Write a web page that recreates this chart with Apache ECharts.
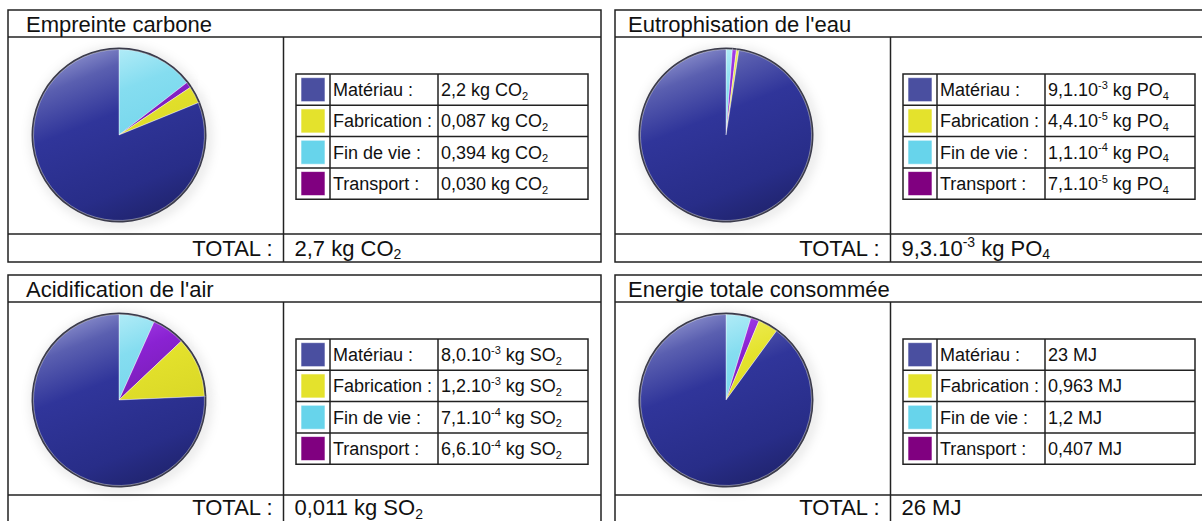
<!DOCTYPE html>
<html lang="fr">
<head>
<meta charset="utf-8">
<title>Impacts environnementaux</title>
<script src="https://cdn.jsdelivr.net/npm/echarts@6/dist/echarts.min.js"></script>
<style>
  html, body { margin: 0; padding: 0; background: #fff; }
  #chart { width: 1202px; height: 521px; }
</style>
</head>
<body>
<div id="chart"></div>
<script>
// Phases du cycle de vie, dans l'ordre des lignes du tableau
const phases = ['Matériau', 'Fabrication', 'Fin de vie', 'Transport'];
const phaseColors = ['#4a4fa0', '#e4e22c', '#67d4eb', '#800080'];

// Indicateurs
const titles = ['Empreinte carbone', "Eutrophisation de l'eau", "Acidification de l'air", 'Energie totale consommée'];
const unitBase = ['kg CO', 'kg PO', 'kg SO', 'MJ'];
const unitIndex = ['2', '4', '2', ''];

// Valeurs par phase (Matériau, Fabrication, Fin de vie, Transport)
const carbone = [2.2, 0.087, 0.394, 0.030];
const eutrophisation = [9.1e-3, 4.4e-5, 1.1e-4, 7.1e-5];
const acidification = [8.0e-3, 1.2e-3, 7.1e-4, 6.6e-4];
const energie = [23, 0.963, 1.2, 0.407];

// Notation : nombre de décimales, ou 'sci' pour l'écriture m.10^e
const carboneFormat = [1, 3, 3, 3];
const eutrophisationFormat = ['sci', 'sci', 'sci', 'sci'];
const acidificationFormat = ['sci', 'sci', 'sci', 'sci'];
const energieFormat = [0, 3, 1, 3];
const totalFormat = [1, 'sci', 3, 0];

// Ordre des parts dans le camembert (sens horaire depuis midi)
const sliceOrder = [2, 3, 1, 0];

const values = [carbone, eutrophisation, acidification, energie];
const formats = [carboneFormat, eutrophisationFormat, acidificationFormat, energieFormat];

const FONT = '"Liberation Sans", Arial, Helvetica, sans-serif';
const INK = '#111111';
const LINE = '#222222';

// Géométrie des cadres
const panelOrigins = [[8, 10], [615, 10], [8, 275], [615, 275]];
const titleInset = [18, 13, 18, 13];
const totalLineDy = [224, 224, 220, 220];
const totalTextDy = [14, 14, 12.5, 12.5];
const PANEL_W = 593, PANEL_H = 252, TITLE_H = 27, SPLIT_X = 275.5;
const TABLE_DX = 288, TABLE_DY = 64, ROW_H = 31.3;
const COL_W = [34, 108, 150];
const PIE_DX = 111, PIE_DY = 125, PIE_R = 86;

function richSet(size, small) {
  return {
    v: { fontSize: size, fontFamily: FONT, lineHeight: size + 4, fill: INK },
    sup: { fontSize: small, fontFamily: FONT, lineHeight: small + 2, verticalAlign: 'top', fill: INK },
    sub: { fontSize: small, fontFamily: FONT, lineHeight: small + 2, verticalAlign: 'bottom', fill: INK }
  };
}

function formatNumber(v, fmt) {
  if (fmt === 'sci') {
    let e = Math.floor(Math.log10(v));
    let m = Math.round(v / Math.pow(10, e) * 10) / 10;
    if (m >= 10) { m = m / 10; e += 1; }
    return '{v|' + m.toFixed(1).replace('.', ',') + '.10}{sup|' + e + '}';
  }
  return '{v|' + v.toFixed(fmt).replace('.', ',') + '}';
}

function formatValue(v, fmt, k) {
  let s = formatNumber(v, fmt) + '{v| ' + unitBase[k] + '}';
  if (unitIndex[k]) s += '{sub|' + unitIndex[k] + '}';
  return s;
}

function sliceGradient(i, cx, cy, r) {
  const stops = [
    [[0, '#9094cf'], [0.16, '#5a5fb0'], [0.4, '#30359a'], [0.8, '#282d88'], [1, '#20246f']],
    [[0, '#f4f36e'], [0.35, '#e4e22c'], [1, '#cfcd22']],
    [[0, '#c2f1fa'], [0.3, '#85ddf0'], [1, '#5fcde6']],
    [[0, '#b24ef2'], [0.3, '#8a22d2'], [1, '#5c1584']]
  ][i];
  return {
    type: 'linear', global: true,
    x: cx - 0.5 * r, y: cy - r, x2: cx + 0.3 * r, y2: cy + r,
    colorStops: stops.map(s => ({ offset: s[0], color: s[1] }))
  };
}

const elements = [];
const series = [];

function line(x1, y1, x2, y2, w) {
  elements.push({ type: 'line', silent: true, shape: { x1, y1, x2, y2 }, style: { stroke: LINE, lineWidth: w || 1.5 } });
}

function text(x, y, str, align, size, small) {
  elements.push({
    type: 'text', silent: true, x, y,
    style: {
      text: str, rich: richSet(size, small), fill: INK,
      fontFamily: FONT, fontSize: size,
      align, textAlign: align, verticalAlign: 'middle', textVerticalAlign: 'middle'
    }
  });
}

values.forEach((vals, k) => {
  const [ox, oy] = panelOrigins[k];
  const totalTop = oy + totalLineDy[k];

  // cadre, bandeau de titre, ligne du total
  elements.push({ type: 'rect', silent: true, shape: { x: ox, y: oy, width: PANEL_W, height: PANEL_H },
    style: { fill: 'none', stroke: LINE, lineWidth: 1.5 } });
  line(ox, oy + TITLE_H, ox + PANEL_W, oy + TITLE_H);
  line(ox, totalTop, ox + PANEL_W, totalTop);
  line(ox + SPLIT_X, oy + TITLE_H, ox + SPLIT_X, oy + PANEL_H);

  text(ox + titleInset[k], oy + TITLE_H / 2 + 0.5, '{v|' + titles[k] + '}', 'left', 22, 14);

  // total
  const total = vals.reduce((a, b) => a + b, 0);
  const ty = totalTop + totalTextDy[k];
  text(ox + SPLIT_X - 11, ty, '{v|TOTAL :}', 'right', 22, 14);
  text(ox + SPLIT_X + 11, ty, formatValue(total, totalFormat[k], k), 'left', 22, 14);

  // tableau de légende
  const tx = ox + TABLE_DX, ty0 = oy + TABLE_DY;
  const tw = COL_W[0] + COL_W[1] + COL_W[2];
  const th = ROW_H * phases.length;
  elements.push({ type: 'rect', silent: true, shape: { x: tx, y: ty0, width: tw, height: th },
    style: { fill: 'none', stroke: LINE, lineWidth: 1.5 } });
  for (let r = 1; r < phases.length; r++) line(tx, ty0 + r * ROW_H, tx + tw, ty0 + r * ROW_H);
  line(tx + COL_W[0], ty0, tx + COL_W[0], ty0 + th);
  line(tx + COL_W[0] + COL_W[1], ty0, tx + COL_W[0] + COL_W[1], ty0 + th);

  phases.forEach((p, i) => {
    const ry = ty0 + i * ROW_H;
    elements.push({ type: 'rect', silent: true,
      shape: { x: tx + 5, y: ry + (ROW_H - 24) / 2, width: 24, height: 24 },
      style: { fill: phaseColors[i], stroke: 'rgba(255,255,255,0.6)', lineWidth: 1 } });
    text(tx + COL_W[0] + 3, ry + ROW_H / 2 + 0.5, '{v|' + p + ' :}', 'left', 18, 11);
    text(tx + COL_W[0] + COL_W[1] + 3, ry + ROW_H / 2 + 0.5, formatValue(vals[i], formats[k][i], k), 'left', 18, 11);
  });

  // camembert
  const cx = ox + PIE_DX, cy = oy + PIE_DY;
  const pieData = sliceOrder.map(i => ({ name: phases[i], value: vals[i], itemStyle: { color: sliceGradient(i, cx, cy, PIE_R) } }));
  series.push({
    type: 'pie', center: [cx, cy], radius: [0, PIE_R - 0.5], startAngle: 90, clockwise: true,
    silent: true, animation: false, label: { show: false }, labelLine: { show: false },
    itemStyle: { borderColor: 'rgba(255,255,255,0.55)', borderWidth: 0.7 },
    data: pieData, z: 3
  });
  // liseré sombre et halo autour du disque
  series.push({
    type: 'pie', center: [cx, cy], radius: [PIE_R - 1.5, PIE_R + 1.5], startAngle: 90, clockwise: true,
    silent: true, animation: false, label: { show: false }, labelLine: { show: false },
    itemStyle: { color: '#3a3a4c', borderWidth: 0, shadowBlur: 12, shadowOffsetX: 2, shadowOffsetY: 2, shadowColor: 'rgba(0,0,0,0.3)' },
    data: sliceOrder.map(i => ({ name: phases[i], value: vals[i] })), z: 2
  });
});

const chart = echarts.init(document.getElementById('chart'), null, { renderer: 'svg', width: 1202, height: 521 });
chart.setOption({
  backgroundColor: '#ffffff',
  animation: false,
  graphic: { elements },
  series
});
</script>
</body>
</html>
